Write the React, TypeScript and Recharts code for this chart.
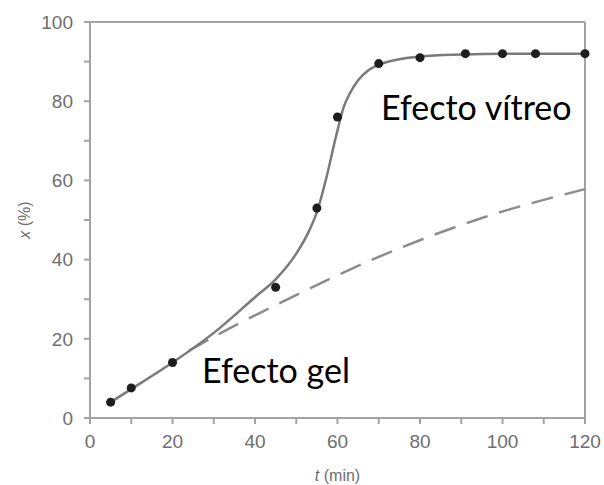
import { ComposedChart, Line, Scatter, XAxis, YAxis, ReferenceLine } from 'recharts';

// measured points: time (min) vs conversion (%)
const pointT = [5, 10, 20, 45, 55, 60, 70, 80, 91, 100, 108, 120];
const pointX = [4, 7.6, 14, 33, 53, 76, 89.5, 91, 92, 92, 92, 92];

// solid fitted curve
const curveT = [5, 10, 20, 30, 40, 45, 50, 53, 55, 57.5, 59.5, 61.5, 63, 65, 67.5, 70, 75, 80, 90, 100, 120];
const curveX = [4, 7.3, 14, 21.5, 30.5, 35, 41.5, 47, 52, 61.5, 70.5, 78.5, 82, 85.3, 87.8, 89.2, 90.6, 91.3, 91.8, 92, 92];

// dashed line without the glass effect
const dashT = [24, 30, 46, 70, 95, 120];
const dashX = [17, 20.5, 29, 40.7, 50.5, 57.8];

const xTicks = [0, 10, 20, 30, 40, 50, 60, 70, 80, 90, 100, 110, 120];
const yTicks = [0, 10, 20, 30, 40, 50, 60, 70, 80, 90, 100];

const points = pointT.map((t, i) => ({ t, x: pointX[i] }));
const curve = curveT.map((t, i) => ({ t, x: curveX[i] }));
const dashed = dashT.map((t, i) => ({ t, x: dashX[i] }));

const axisGray = '#a3a3a3';
const tickFont = { fontFamily: '"Liberation Sans", Arial, sans-serif', fontSize: 19, fill: '#6e6e6e' };
const major = (v: number) => (v % 20 === 0 ? String(v) : '');

export default function App() {
  return (
    <div style={{ position: 'absolute', left: 0, top: 0, width: 604, height: 485, background: '#fff' }}>
      <ComposedChart width={604} height={485} margin={{ top: 22, right: 19, bottom: 37, left: 0 }}>
        <XAxis
          dataKey="t"
          type="number"
          domain={[0, 120]}
          ticks={xTicks}
          tickFormatter={major}
          allowDuplicatedCategory={false}
          stroke={axisGray}
          strokeWidth={2}
          tickSize={6}
          tickMargin={11}
          tick={tickFont}
        />
        <YAxis
          dataKey="x"
          type="number"
          domain={[0, 100]}
          ticks={yTicks}
          tickFormatter={major}
          width={90}
          stroke={axisGray}
          strokeWidth={2}
          tickSize={6}
          tickMargin={11}
          tick={tickFont}
        />
        <ReferenceLine y={100} stroke={axisGray} strokeWidth={2} />
        <ReferenceLine x={120} stroke={axisGray} strokeWidth={2} />
        <Line
          data={dashed}
          dataKey="x"
          type="monotone"
          stroke="#8c8c8c"
          strokeWidth={2.5}
          strokeDasharray="22 12"
          dot={false}
          isAnimationActive={false}
        />
        <Line
          data={curve}
          dataKey="x"
          type="monotone"
          stroke="#7a7a7a"
          strokeWidth={2.5}
          dot={false}
          isAnimationActive={false}
        />
        <Scatter data={points} dataKey="x" fill="#1e1e1e" shape="circle" isAnimationActive={false} />
      </ComposedChart>
      <div
        style={{
          position: 'absolute',
          left: 0,
          top: 0,
          width: 50,
          height: 440,
          display: 'flex',
          alignItems: 'center',
          justifyContent: 'center',
        }}
      >
        <div
          style={{
            transform: 'rotate(-90deg)',
            whiteSpace: 'nowrap',
            fontFamily: '"Liberation Sans", Arial, sans-serif',
            fontSize: 16,
            color: '#6e6e6e',
          }}
        >
          <i>x</i> (%)
        </div>
      </div>
      <div
        style={{
          position: 'absolute',
          left: 90,
          width: 495,
          top: 467,
          textAlign: 'center',
          fontFamily: '"Liberation Sans", Arial, sans-serif',
          fontSize: 16,
          color: '#6e6e6e',
        }}
      >
        <i>t</i> (min)
      </div>
      <div
        style={{
          position: 'absolute',
          left: 381,
          top: 86,
          fontFamily: 'Lato, "Open Sans", sans-serif',
          fontSize: 34,
          color: '#000',
          whiteSpace: 'nowrap',
        }}
      >
        Efecto vítreo
      </div>
      <div
        style={{
          position: 'absolute',
          left: 202,
          top: 349,
          fontFamily: 'Lato, "Open Sans", sans-serif',
          fontSize: 34,
          color: '#000',
          whiteSpace: 'nowrap',
        }}
      >
        Efecto gel
      </div>
    </div>
  );
}
